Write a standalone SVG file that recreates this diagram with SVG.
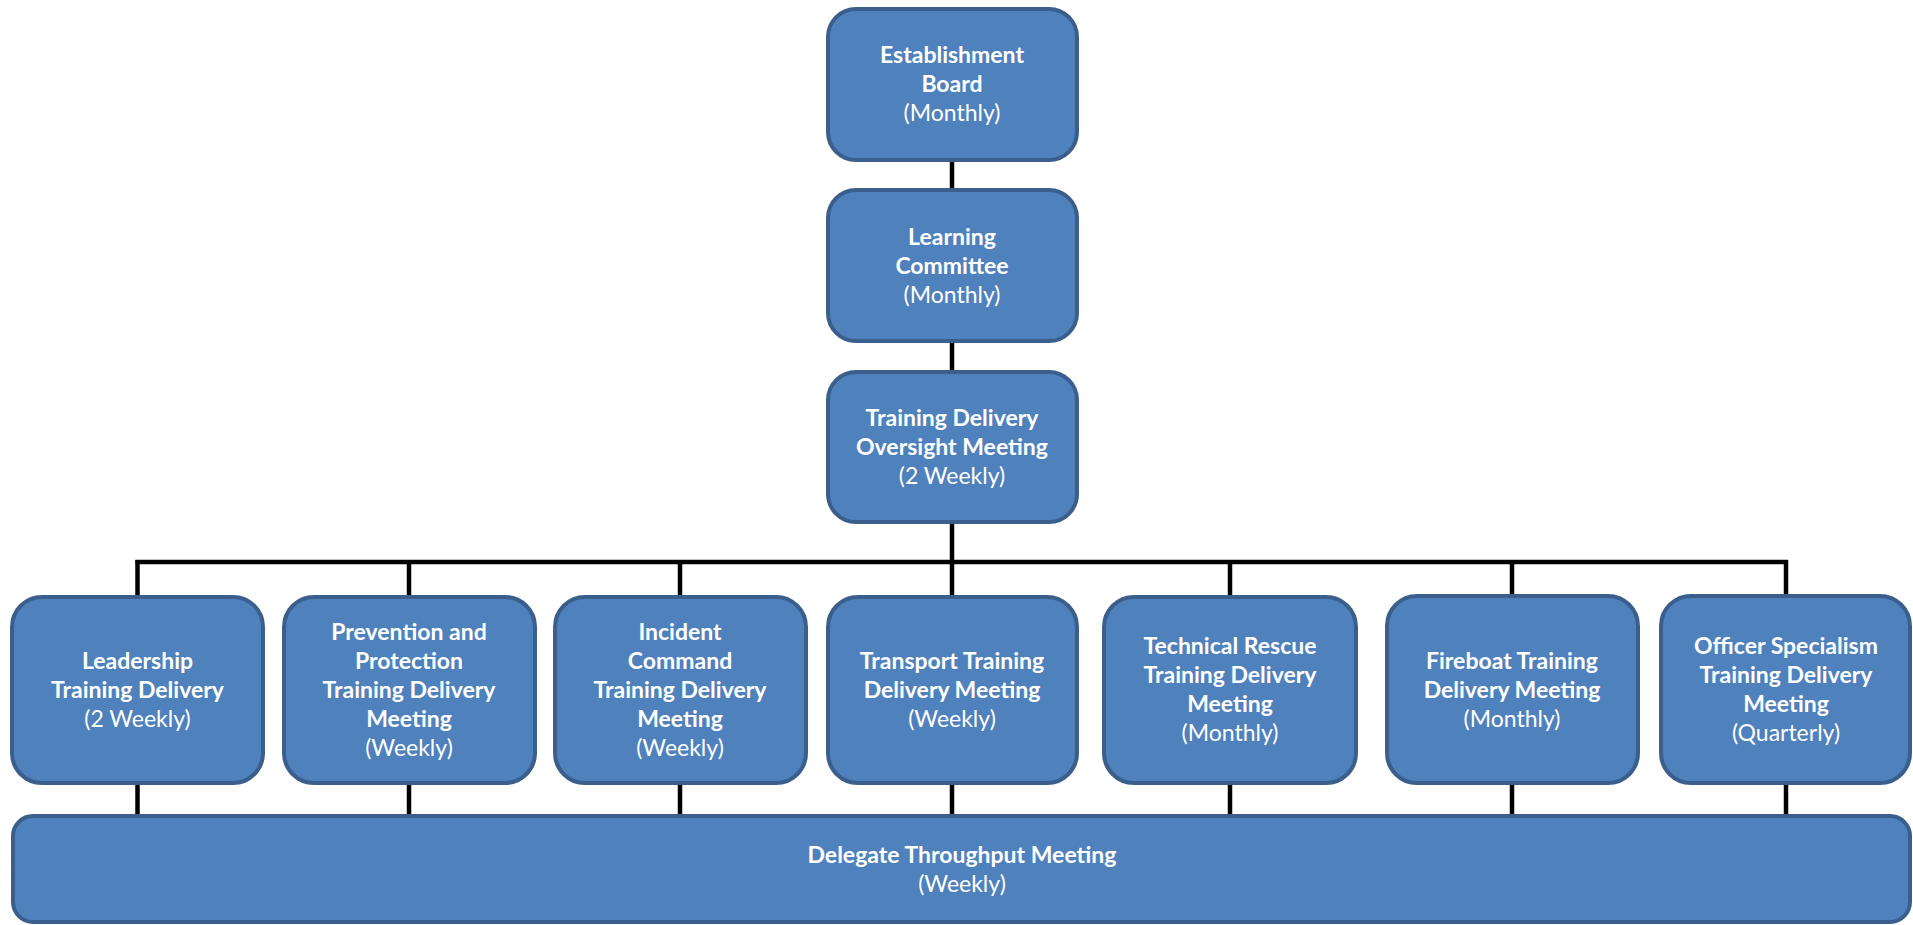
<svg xmlns="http://www.w3.org/2000/svg" width="1913" height="925" viewBox="0 0 1913 925">
<style>
.box{fill:#4F81BD;stroke:#3A5F8C;stroke-width:4}
.t{font-family:Lato,"Open Sans","Liberation Sans",sans-serif;font-size:23px;fill:#fff;text-anchor:middle}
.b{font-weight:bold}
.conn{stroke:#000;stroke-width:4.5;fill:none}
</style>
<rect width="1913" height="925" fill="#fff"/>
<g id="connectors">
<line class="conn" x1="952" y1="160" x2="952" y2="190"/>
<line class="conn" x1="952" y1="341" x2="952" y2="372"/>
<line class="conn" x1="952" y1="522" x2="952" y2="597"/>
<line class="conn" x1="135.5" y1="562" x2="1788" y2="562"/>
<line class="conn" x1="137.5" y1="560" x2="137.5" y2="597"/>
<line class="conn" x1="409" y1="560" x2="409" y2="597"/>
<line class="conn" x1="680" y1="560" x2="680" y2="597"/>
<line class="conn" x1="1230" y1="560" x2="1230" y2="597"/>
<line class="conn" x1="1512" y1="560" x2="1512" y2="597"/>
<line class="conn" x1="1786" y1="560" x2="1786" y2="597"/>
<line class="conn" x1="137.5" y1="783" x2="137.5" y2="816"/>
<line class="conn" x1="409" y1="783" x2="409" y2="816"/>
<line class="conn" x1="680" y1="783" x2="680" y2="816"/>
<line class="conn" x1="952" y1="783" x2="952" y2="816"/>
<line class="conn" x1="1230" y1="783" x2="1230" y2="816"/>
<line class="conn" x1="1512" y1="783" x2="1512" y2="816"/>
<line class="conn" x1="1786" y1="783" x2="1786" y2="816"/>
</g>
<g id="establishment-board">
<rect class="box" x="828" y="9" width="249" height="151" rx="28"/>
<text class="t b" x="952" y="63">Establishment</text>
<text class="t b" x="952" y="92">Board</text>
<text class="t" x="952" y="121">(Monthly)</text>
</g>
<g id="learning-committee">
<rect class="box" x="828" y="190" width="249" height="151" rx="28"/>
<text class="t b" x="952" y="245">Learning</text>
<text class="t b" x="952" y="274">Committee</text>
<text class="t" x="952" y="303">(Monthly)</text>
</g>
<g id="training-delivery-oversight">
<rect class="box" x="828" y="372" width="249" height="150" rx="28"/>
<text class="t b" x="952" y="426">Training Delivery</text>
<text class="t b" x="952" y="455">Oversight Meeting</text>
<text class="t" x="952" y="484">(2 Weekly)</text>
</g>
<g id="leadership">
<rect class="box" x="12" y="597" width="251" height="186" rx="30"/>
<text class="t b" x="137.5" y="669">Leadership</text>
<text class="t b" x="137.5" y="698">Training Delivery</text>
<text class="t" x="137.5" y="727">(2 Weekly)</text>
</g>
<g id="prevention-protection">
<rect class="box" x="284" y="597" width="251" height="186" rx="30"/>
<text class="t b" x="409" y="640">Prevention and</text>
<text class="t b" x="409" y="669">Protection</text>
<text class="t b" x="409" y="698">Training Delivery</text>
<text class="t b" x="409" y="727">Meeting</text>
<text class="t" x="409" y="756">(Weekly)</text>
</g>
<g id="incident-command">
<rect class="box" x="555" y="597" width="251" height="186" rx="30"/>
<text class="t b" x="680" y="640">Incident</text>
<text class="t b" x="680" y="669">Command</text>
<text class="t b" x="680" y="698">Training Delivery</text>
<text class="t b" x="680" y="727">Meeting</text>
<text class="t" x="680" y="756">(Weekly)</text>
</g>
<g id="transport">
<rect class="box" x="828" y="597" width="249" height="186" rx="30"/>
<text class="t b" x="952" y="669">Transport Training</text>
<text class="t b" x="952" y="698">Delivery Meeting</text>
<text class="t" x="952" y="727">(Weekly)</text>
</g>
<g id="technical-rescue">
<rect class="box" x="1104" y="597" width="252" height="186" rx="30"/>
<text class="t b" x="1230" y="654">Technical Rescue</text>
<text class="t b" x="1230" y="683">Training Delivery</text>
<text class="t b" x="1230" y="712">Meeting</text>
<text class="t" x="1230" y="741">(Monthly)</text>
</g>
<g id="fireboat">
<rect class="box" x="1387" y="596" width="251" height="187" rx="30"/>
<text class="t b" x="1512" y="669">Fireboat Training</text>
<text class="t b" x="1512" y="698">Delivery Meeting</text>
<text class="t" x="1512" y="727">(Monthly)</text>
</g>
<g id="officer-specialism">
<rect class="box" x="1661" y="596" width="249" height="187" rx="30"/>
<text class="t b" x="1786" y="654">Officer Specialism</text>
<text class="t b" x="1786" y="683">Training Delivery</text>
<text class="t b" x="1786" y="712">Meeting</text>
<text class="t" x="1786" y="741">(Quarterly)</text>
</g>
<g id="delegate-throughput">
<rect class="box" x="13" y="816" width="1897" height="106" rx="20"/>
<text class="t b" x="962" y="863">Delegate Throughput Meeting</text>
<text class="t" x="962" y="892">(Weekly)</text>
</g>
</svg>
